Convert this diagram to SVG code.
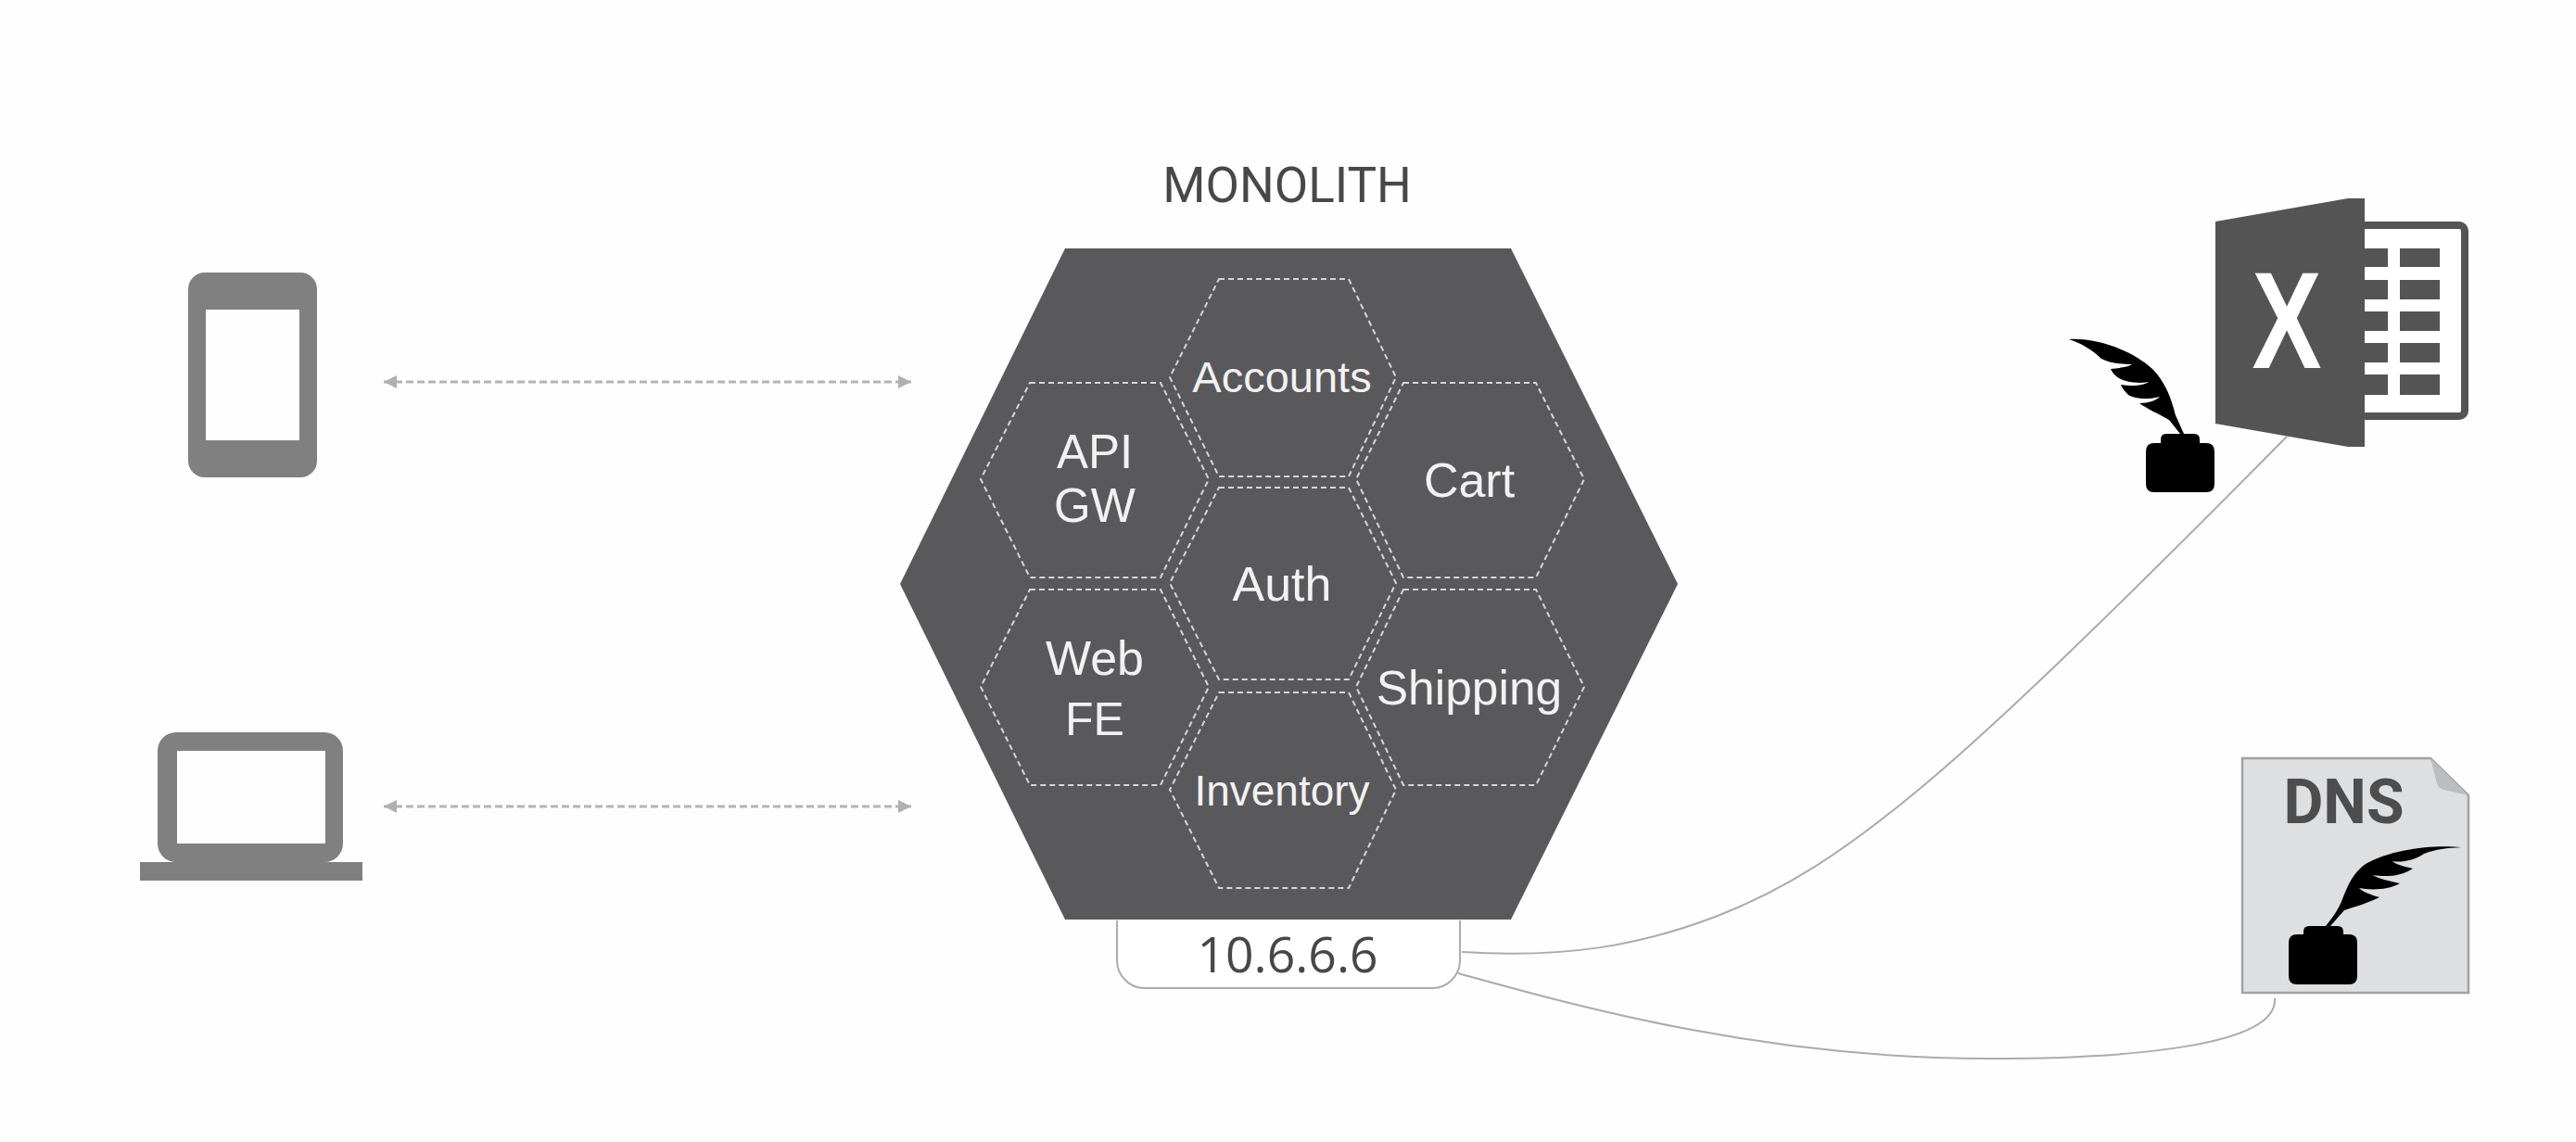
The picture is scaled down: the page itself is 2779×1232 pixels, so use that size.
<svg xmlns="http://www.w3.org/2000/svg" width="2779" height="1232" viewBox="0 0 2779 1232">
<style>
.svc{fill:none;stroke:#d6d6d6;stroke-width:2;stroke-dasharray:6 4}
.lbl{font-family:"Liberation Sans",Arial,sans-serif;fill:#f2f2f2;text-anchor:middle}
.dev{fill:#808080}
.xl{fill:#545454}
.ink{fill:#000}
.link{fill:none;stroke:#ababab;stroke-width:2}
.flow{fill:none;stroke:#b4b4b4;stroke-width:3;stroke-dasharray:8 4;marker-start:url(#ah);marker-end:url(#ah)}
</style>
<defs>
<marker id="ah" markerUnits="userSpaceOnUse" markerWidth="15" markerHeight="15" refX="14" refY="7.5" orient="auto-start-reverse"><path d="M0 0.5L14 7.5L0 14.500Z" fill="#b0b0b0"/></marker>
</defs>
<rect width="2779" height="1232" fill="#fefefe"/>

<g id="connectors">
<path class="flow" d="M414 412H983"/>
<path class="flow" d="M414 870H983"/>
<path class="link" d="M1577 1027C1690 1034 1770 1020 1853 988C1930 958 1990 917 2060 860C2150 787 2290 650 2467 471"/>
<path class="link" d="M1573 1050C1700 1085 1900 1142 2147 1142C2300 1142 2458 1128 2454 1077"/>
</g>

<g id="phone"><path class="dev" fill-rule="evenodd" d="M221 294H324A18 18 0 0 1 342 312V497A18 18 0 0 1 324 515H221A18 18 0 0 1 203 497V312A18 18 0 0 1 221 294ZM222 334V475H323V334Z"/></g>

<g id="laptop"><path class="dev" fill-rule="evenodd" d="M190 790H350A20 20 0 0 1 370 810V910A20 20 0 0 1 350 930H391V950H151V930H190A20 20 0 0 1 170 910V810A20 20 0 0 1 190 790ZM191 810V910H351V810Z"/></g>

<g id="monolith">
<text x="1388.500" y="218" font-family="Roboto,sans-serif" font-size="53" fill="#484848" text-anchor="middle">MONOLITH</text>
<path d="M1149 268H1630L1810 630L1630 992H1149L971 630Z" fill="#59595b"/>
</g>

<g id="ip">
<path d="M1205 993V1036A30 30 0 0 0 1235 1066H1545A30 30 0 0 0 1575 1036V993" fill="#fff" stroke="#ababab" stroke-width="2"/>
<text x="1389" y="1049" font-family="'Open Sans',sans-serif" font-size="53.500" fill="#474747" text-anchor="middle">10.6.6.6</text>
</g>

<g id="accounts"><path class="svc" d="M1315 301H1455L1506 407L1455 514H1315L1262 407Z"/><text class="lbl" x="1383" y="423" font-size="47">Accounts</text></g>
<g id="api-gw"><path class="svc" d="M1111 413H1252L1304 517L1252 623H1111L1058 517Z"/><text class="lbl" x="1181" y="505" font-size="51">API</text><text class="lbl" x="1181" y="563" font-size="51">GW</text></g>
<g id="cart"><path class="svc" d="M1514 413H1657L1709 517L1657 623H1514L1463 517Z"/><text class="lbl" x="1585" y="536" font-size="52">Cart</text></g>
<g id="auth"><path class="svc" d="M1315 526H1455L1506 629L1455 733H1315L1262 629Z"/><text class="lbl" x="1383" y="648" font-size="52">Auth</text></g>
<g id="web-fe"><path class="svc" d="M1111 636H1252L1304 741L1252 847H1111L1058 741Z"/><text class="lbl" x="1181" y="728" font-size="52">Web</text><text class="lbl" x="1181" y="793" font-size="50">FE</text></g>
<g id="shipping"><path class="svc" d="M1514 636H1657L1709 741L1657 847H1514L1463 741Z"/><text class="lbl" x="1585" y="760" font-size="51.500">Shipping</text></g>
<g id="inventory"><path class="svc" d="M1315 747H1455L1506 852L1455 958H1315L1262 852Z"/><text class="lbl" x="1383" y="869" font-size="46">Inventory</text></g>

<g id="excel">
<rect x="2540" y="243" width="119" height="206" rx="6" fill="#fff" stroke="#545454" stroke-width="8"/>
<path class="xl" d="M2551 268H2576V288H2551ZM2589 268H2632V288H2589ZM2551 302H2576V323H2551ZM2589 302H2632V323H2589ZM2551 336H2576V357H2551ZM2589 336H2632V357H2589ZM2551 370H2576V391H2551ZM2589 370H2632V391H2589ZM2551 404H2576V426H2551ZM2589 404H2632V426H2589Z"/>
<path class="xl" d="M2390 239L2533 214H2551V482H2533L2390 457Z"/>
<text transform="translate(2467 397) scale(.76 1)" font-family="'Liberation Sans',sans-serif" font-weight="700" font-size="148" fill="#fff" text-anchor="middle">X</text>
</g>

<g id="excel-quill">
<path class="ink" d="M2331 478V474Q2331 468 2337 468H2367Q2373 468 2373 474V478H2380Q2389 478 2389 487V522Q2389 531 2380 531H2324Q2315 531 2315 522V487Q2315 478 2324 478Z"/>
<path class="ink" d="M2232 366C2262 364 2300 378 2322 398C2338 414 2344 436 2347 448L2356 468H2352L2340 453C2328 446 2316 441 2308 435C2318 435 2326 432 2330 428C2320 431 2304 431 2296 426C2292 422 2289 418 2288 415C2300 417 2312 416 2318 412C2308 414 2290 413 2282 405C2279 402 2278 400 2277 398C2286 397 2296 396 2300 393C2290 393 2276 392 2267 387C2258 378 2245 370 2232 366Z"/>
</g>

<g id="dns">
<path d="M2419 818H2622L2663 858V1071H2419Z" fill="#dedfe1" stroke="#a2a2a4" stroke-width="2.500"/>
<path d="M2622 818L2663 858L2636 852Q2630 850 2629 845Z" fill="#bcbdc0"/>
<text x="2528.500" y="888" font-family="Roboto,sans-serif" font-weight="700" font-size="66" fill="#4d4d4d" text-anchor="middle">DNS</text>
<path class="ink" d="M2485 1008V1005Q2485 999 2491 999H2522Q2528 999 2528 1005V1008H2534Q2543 1008 2543 1017V1053Q2543 1062 2534 1062H2478Q2469 1062 2469 1053V1017Q2469 1008 2478 1008Z"/>
<path class="ink" d="M2655 914C2625 911 2580 916 2552 932C2538 942 2533 955 2527 970C2523 980 2518 988 2509 999H2514L2529 982C2545 977 2557 973 2567 968C2560 966 2548 962 2545 958C2555 960 2575 961 2589 953C2580 951 2565 948 2560 944C2572 946 2590 946 2603 937C2595 935 2585 933 2581 929C2590 931 2605 928 2615 921C2628 916 2640 915 2655 914Z"/>
</g>
</svg>
